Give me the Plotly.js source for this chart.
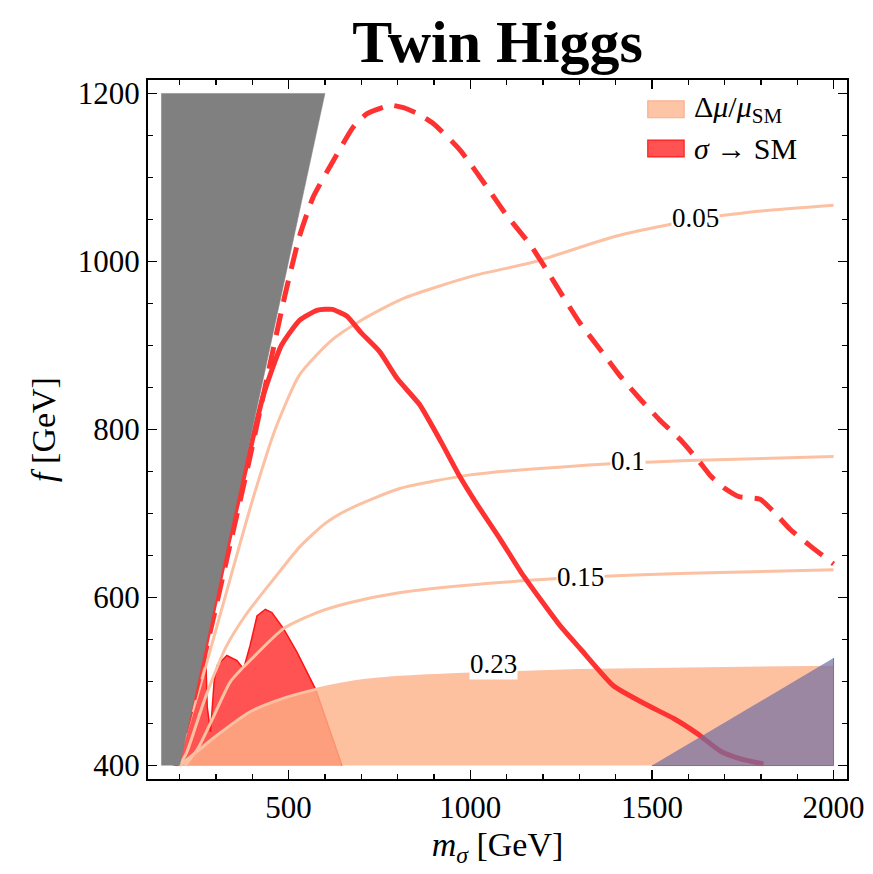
<!DOCTYPE html>
<html>
<head>
<meta charset="utf-8">
<script src="https://cdn.plot.ly/plotly-3.0.1.min.js"></script>
<style>html,body{margin:0;padding:0;background:#fff;}#chart{width:873px;height:874px;}</style>
</head>
<body>
<div id="chart"></div>
<script>
// ---- data (m_sigma in GeV, f in GeV) ----
const grayM = [150, 150, 600, 200];
const grayF = [400, 1200, 1200, 400];

const purpleM = [1500, 2000, 2000];
const purpleF = [400, 400, 528];

// sigma -> SM excluded region (filled)
const redRegM = [185, 240, 262, 272, 276, 285, 295, 303, 330, 358, 376, 394, 413, 436, 454, 486, 523, 551, 574, 647];
const redRegF = [400, 470, 530, 530, 470, 440, 500, 519, 531, 525, 515, 543, 578, 586, 582, 563, 535, 511, 491, 400];

// Delta mu / mu_SM contours
const c005M = [190, 260, 339, 400, 463, 530, 615, 700, 810, 1000, 1180, 1400, 1620, 1800, 2000];
const c005F = [400, 500, 622, 715, 800, 865, 905, 930, 955, 982, 1000, 1030, 1050, 1060, 1067];
const c010M = [200, 220, 270, 330, 380, 422, 459, 530, 600, 670, 808, 1000, 1300, 1600, 2000];
const c010F = [400, 416, 480, 543, 578, 602, 622, 660, 688, 706, 730, 746, 757, 763, 768];
const c015M = [215, 250, 290, 340, 394, 486, 578, 670, 808, 1000, 1303, 1600, 2000];
const c015F = [400, 420, 455, 500, 525, 563, 582, 594, 606, 615, 624, 629, 633];
const c023M = [200, 257, 303, 394, 485, 578, 670, 808, 1000, 1300, 1600, 2000];
const c023F = [400, 420, 436, 464, 480, 491, 499, 505, 509, 513, 515, 517];

// sigma -> SM lines
const solidM = [185, 230, 270, 320, 380, 430, 480, 530, 580, 620, 660, 700, 750, 800, 860, 920, 970, 1020, 1083, 1140, 1193, 1250, 1303, 1394, 1487, 1560, 1625, 1689, 1744, 1807];
const solidF = [400, 470, 540, 640, 750, 840, 900, 930, 942, 943, 935, 915, 893, 860, 830, 785, 745, 710, 669, 630, 598, 565, 539, 495, 472, 456, 438, 417, 408, 402];
const dashM = [190, 240, 290, 340, 390, 440, 490, 530, 568, 623, 678, 716, 780, 816, 860, 899, 973, 1047, 1100, 1165, 1210, 1250, 1300, 1358, 1410, 1468, 1520, 1578, 1630, 1661, 1700, 1740, 1798, 1840, 1881, 1940, 2000];
const dashF = [400, 480, 570, 665, 760, 860, 960, 1030, 1077, 1120, 1160, 1176, 1186, 1183, 1175, 1164, 1132, 1088, 1055, 1020, 990, 962, 928, 895, 865, 836, 812, 788, 762, 745, 730, 720, 717, 700, 681, 660, 640];

const contourLabels = ['0.05', '0.1', '0.15', '0.23'];
const labelM = [1620, 1435, 1303, 1064];
const labelF = [1052, 762, 625, 521];

const legendLabels = ['Δ<i>μ</i>/<i>μ</i><sub>SM</sub>', '<i>σ</i> → SM'];

const xTicks = [500, 1000, 1500, 2000];
const yTicks = [400, 600, 800, 1000, 1200];

// ---- styles ----
const SERIF = '"Liberation Serif", "DejaVu Serif", serif';
const peachLine = 'rgb(252,192,162)';
const peachFill = 'rgba(252,178,136,0.8)';
const redFill = 'rgb(255,82,82)';

const traces = [];
traces.push({x: redRegM, y: redRegF, mode: 'lines', fill: 'toself', fillcolor: redFill,
  line: {color: 'rgb(255,20,20)', width: 1.5}, showlegend: false, hoverinfo: 'skip'});
traces.push({x: c023M.concat([2000, 200]), y: c023F.concat([400, 400]), mode: 'lines', fill: 'toself',
  fillcolor: peachFill, line: {color: 'rgba(252,178,136,0)', width: 0},
  showlegend: false, hoverinfo: 'skip'});
[[c005M, c005F], [c010M, c010F], [c015M, c015F], [c023M, c023F]].forEach(function (c) {
  traces.push({x: c[0], y: c[1], mode: 'lines', line: {color: peachLine, width: 3, shape: 'spline', smoothing: 0.6},
    showlegend: false, hoverinfo: 'skip'});
});
traces.push({x: solidM, y: solidF, mode: 'lines', line: {color: 'rgb(255,50,50)', width: 5, shape: 'spline', smoothing: 0.5},
  showlegend: false, hoverinfo: 'skip'});
traces.push({x: dashM, y: dashF, mode: 'lines', line: {color: 'rgb(255,50,50)', width: 5, dash: '22px,12px', shape: 'spline', smoothing: 0.5},
  showlegend: false, hoverinfo: 'skip'});
traces.push({x: purpleM, y: purpleF, mode: 'lines', fill: 'toself', fillcolor: 'rgba(112,109,163,0.7)',
  line: {color: 'rgb(120,120,120)', width: 1}, showlegend: false, hoverinfo: 'skip'});
traces.push({x: grayM, y: grayF, mode: 'lines', fill: 'toself', fillcolor: 'rgb(128,128,128)',
  line: {color: 'rgb(128,128,128)', width: 0.5}, showlegend: false, hoverinfo: 'skip'});

const annotations = contourLabels.map(function (t, i) {
  return {x: labelM[i], y: labelF[i], xref: 'x', yref: 'y', text: t, showarrow: false,
    font: {family: SERIF, size: 27, color: '#000'}, bgcolor: '#fff', borderpad: 0};
});

// manual legend (paper coordinates)
const legY = [0.958, 0.902];
const legColors = ['rgb(253,196,166)', redFill];
const legBorders = ['rgb(250,175,140)', 'rgb(255,30,30)'];
const shapes = [];
legendLabels.forEach(function (t, i) {
  shapes.push({type: 'rect', xref: 'paper', yref: 'paper', x0: 0.715, x1: 0.767,
    y0: legY[i] - 0.012, y1: legY[i] + 0.012, fillcolor: legColors[i], line: {color: legBorders[i], width: 1.2}});
  annotations.push({xref: 'paper', yref: 'paper', x: 0.778, y: legY[i], xanchor: 'left', yanchor: 'middle',
    text: t, showarrow: false, font: {family: SERIF, size: 30, color: '#000'}});
});

const axisCommon = {
  showgrid: false, zeroline: false, showline: true, linecolor: '#000', linewidth: 2,
  mirror: 'ticks', ticks: 'inside', ticklen: 9, tickwidth: 1.5, tickcolor: '#000',
  tickfont: {family: SERIF, size: 31, color: '#000'}
};

const layout = {
  width: 873, height: 874,
  margin: {l: 148, r: 26, t: 80, b: 95},
  paper_bgcolor: '#fff', plot_bgcolor: '#fff',
  title: {text: '<b>Twin Higgs</b>', x: 0.5, xref: 'paper', y: 0.953, yanchor: 'middle',
    font: {family: SERIF, size: 60, color: '#000'}},
  xaxis: Object.assign({}, axisCommon, {
    range: [113, 2037], tickvals: xTicks,
    minor: {dtick: 100, tick0: 0, ticks: 'inside', ticklen: 5, tickwidth: 1.2, tickcolor: '#000'},
    title: {text: '<i>m</i><sub><i>σ</i></sub> [GeV]', font: {family: SERIF, size: 34, color: '#000'}, standoff: 8}
  }),
  yaxis: Object.assign({}, axisCommon, {
    range: [384, 1216], tickvals: yTicks,
    minor: {dtick: 50, tick0: 0, ticks: 'inside', ticklen: 5, tickwidth: 1.2, tickcolor: '#000'},
    title: {text: '<i>f</i> [GeV]', font: {family: SERIF, size: 34, color: '#000'}, standoff: 12}
  }),
  showlegend: false,
  shapes: shapes,
  annotations: annotations
};

Plotly.newPlot('chart', traces, layout, {displayModeBar: false, staticPlot: true});
</script>
</body>
</html>
